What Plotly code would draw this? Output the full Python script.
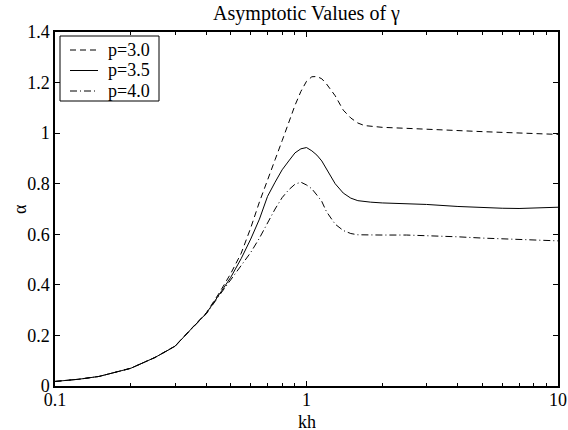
import plotly.graph_objects as go

kh = [0.1, 0.125, 0.15, 0.2, 0.25, 0.3, 0.35, 0.4, 0.45, 0.5, 0.55, 0.6, 0.65, 0.7, 0.75,
      0.8, 0.85, 0.9, 0.95, 1.0, 1.05, 1.1, 1.15, 1.2, 1.3, 1.4, 1.5, 1.6, 1.7, 1.8, 2.0,
      2.5, 3, 4, 5, 6, 7, 8, 10]

alpha_p30 = [0.018, 0.027, 0.038, 0.07, 0.113, 0.158, 0.229, 0.29, 0.368, 0.445, 0.525,
             0.625, 0.728, 0.818, 0.895, 0.97, 1.045, 1.11, 1.165, 1.205, 1.223, 1.224,
             1.215, 1.195, 1.148, 1.091, 1.06, 1.04, 1.03, 1.027, 1.023, 1.019, 1.015,
             1.01, 1.006, 1.003, 1.0, 0.998, 0.995]
alpha_p35 = [0.018, 0.027, 0.038, 0.07, 0.113, 0.157, 0.228, 0.288, 0.362, 0.43, 0.504,
             0.581, 0.66, 0.75, 0.806, 0.855, 0.89, 0.922, 0.938, 0.943, 0.93, 0.913,
             0.89, 0.86, 0.80, 0.763, 0.743, 0.733, 0.729, 0.727, 0.724, 0.722, 0.718,
             0.71, 0.705, 0.703, 0.702, 0.703, 0.707]
alpha_p40 = [0.018, 0.027, 0.038, 0.07, 0.113, 0.157, 0.227, 0.286, 0.358, 0.42, 0.475,
             0.528, 0.585, 0.645, 0.70, 0.745, 0.776, 0.798, 0.806, 0.795, 0.78, 0.755,
             0.73, 0.69, 0.64, 0.615, 0.603, 0.598, 0.597, 0.597, 0.597, 0.597, 0.595,
             0.59, 0.585, 0.582, 0.579, 0.577, 0.574]

series_names = ["p=3.0", "p=3.5", "p=4.0"]
series_vals = [alpha_p30, alpha_p35, alpha_p40]
series_dash = ["6px,4px", "solid", "7px,3px,1px,3px"]

x_major = [0.1, 1, 10]
x_major_text = ["0.1", "1", "10"]
x_minor = [0.2, 0.3, 0.4, 0.5, 0.6, 0.7, 0.8, 0.9, 2, 3, 4, 5, 6, 7, 8, 9]
y_ticks = [0, 0.2, 0.4, 0.6, 0.8, 1.0, 1.2, 1.4]
y_tick_text = ["0", "0.2", "0.4", "0.6", "0.8", "1", "1.2", "1.4"]

FONT = "Liberation Serif"
W, H = 568, 430
ML, MR, MT, MB = 55, 10, 32, 44
PW, PH = W - ML - MR, H - MT - MB


def px_x(px):
    return (px - ML) / PW


def px_y(py):
    return (H - MB - py) / PH


fig = go.Figure()
for name, vals, dash in zip(series_names, series_vals, series_dash):
    fig.add_trace(go.Scatter(x=kh, y=vals, mode="lines", name=name, showlegend=False,
                             line=dict(color="black", width=1, dash=dash)))

# legend drawn in the top-left corner, as in the reference
shapes = [dict(type="rect", xref="paper", yref="paper",
               x0=px_x(60), x1=px_x(159), y0=px_y(101), y1=px_y(36),
               line=dict(color="black", width=1), fillcolor="white", layer="above")]
annotations = []
row_y = [50, 70.5, 91]
for name, dash, ry in zip(series_names, series_dash, row_y):
    shapes.append(dict(type="line", xref="paper", yref="paper",
                       x0=px_x(70), x1=px_x(98), y0=px_y(ry), y1=px_y(ry),
                       line=dict(color="black", width=1, dash=dash), layer="above"))
    annotations.append(dict(text=name, xref="paper", yref="paper", x=px_x(106),
                            y=px_y(ry), xanchor="left", yanchor="middle",
                            showarrow=False, font=dict(family=FONT, size=18)))

annotations.append(dict(text="kh", xref="paper", yref="paper", x=0.5, y=px_y(421),
                        xanchor="center", yanchor="middle", showarrow=False,
                        height=17, borderpad=0,
                        font=dict(family=FONT, size=18)))
annotations.append(dict(text="α", xref="paper", yref="paper", x=px_x(20), y=0.5,
                        xanchor="center", yanchor="middle", textangle=-90,
                        showarrow=False, font=dict(family=FONT, size=18)))

fig.update_layout(
    width=W, height=H,
    margin=dict(l=ML, r=MR, t=MT, b=MB, autoexpand=False),
    paper_bgcolor="white", plot_bgcolor="white",
    font=dict(family=FONT, size=18, color="black"),
    title=dict(text="Asymptotic Values of γ", x=0.5, xanchor="center",
               xref="paper", y=1 - 13 / H, yanchor="middle", yref="container",
               font=dict(family=FONT, size=20)),
    showlegend=False,
    shapes=shapes,
    annotations=annotations,
    xaxis=dict(type="log", range=[-1, 1], showline=True, linecolor="black",
               linewidth=1.5, mirror="ticks", ticks="inside", ticklen=5,
               tickcolor="black", tickvals=x_major, ticktext=x_major_text,
               ticklabelstandoff=-3,
               showgrid=False, zeroline=False, automargin=False,
               minor=dict(tickvals=x_minor, ticks="inside", ticklen=3,
                          tickcolor="black", showgrid=False)),
    yaxis=dict(range=[0, 1.4], showline=True, linecolor="black", linewidth=1.5,
               mirror="ticks", ticks="inside", ticklen=5, tickcolor="black",
               tickvals=y_ticks, ticktext=y_tick_text, showgrid=False,
               zeroline=False, automargin=False),
)

fig.write_html("out.html")
